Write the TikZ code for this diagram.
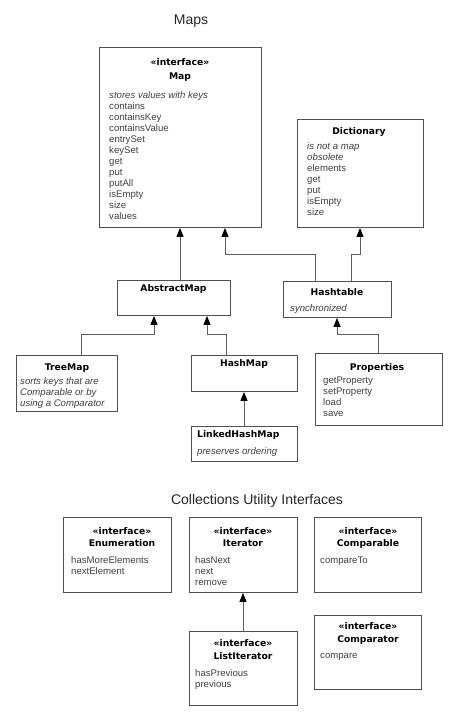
\documentclass[tikz,border=0pt]{standalone}
\usepackage{fontspec}
\setmainfont{Liberation Sans}
\newfontfamily\boldsans{DejaVu Sans}
\usetikzlibrary{arrows.meta,calc}
\definecolor{boxline}{HTML}{505050}
\definecolor{connline}{HTML}{606060}
\definecolor{bodytext}{HTML}{404040}
\tikzset{
  umlbox/.style={draw=boxline, line width=0.9pt, fill=white, rectangle, inner sep=0pt, anchor=north west},
  cname/.style={font=\boldsans\bfseries\fontsize{9.2}{11}\selectfont, text=black, anchor=base, inner sep=0pt},
  lname/.style={font=\boldsans\bfseries\fontsize{9.2}{11}\selectfont, text=black, anchor=base west, inner sep=0pt},
  members/.style={font=\fontsize{9.6}{11}\selectfont, text=bodytext, align=left, anchor=north west, inner sep=0pt},
  heading/.style={font=\fontsize{14}{16}\selectfont, text=black!85, anchor=base, inner sep=0pt},
  conn/.style={draw=connline, line width=0.9pt, -{Triangle[width=7pt,length=9pt,color=black]}},
}
\begin{document}
\begin{tikzpicture}[x=1pt,y=-1pt]
\useasboundingbox (0,0) rectangle (458,717);
\fill[white] (0,0) rectangle (458,717);

% headings
\node[heading] (tmaps) at (191,25) {Maps};
\node[heading] (tutil) at (257,504) {Collections Utility Interfaces};

% ---------- Maps boxes ----------
\node[umlbox, minimum width=162pt, minimum height=180pt] (map) at (99,47) {};
\node[cname] (mapst) at (180,65.5) {«interface»};
\node[cname] (mapn) at (180,79) {Map};
\node[members] (mapm) at (109,90.5) {\rule{0pt}{8pt}\textit{stores values with keys}\\contains\\containsKey\\containsValue\\entrySet\\keySet\\get\\put\\putAll\\isEmpty\\size\\values};

\node[umlbox, minimum width=126pt, minimum height=108pt] (dictionary) at (297,119) {};
\node[cname] (dictn) at (359,134.5) {Dictionary};
\node[members] (dictm) at (307,141.5) {\rule{0pt}{8pt}\textit{is not a map}\\\textit{obsolete}\\elements\\get\\put\\isEmpty\\size};

\node[umlbox, minimum width=113pt, minimum height=35pt] (abstractmap) at (117,280) {};
\node[cname] (absn) at (173.5,291.5) {AbstractMap};

\node[umlbox, minimum width=108pt, minimum height=36pt] (hashtable) at (283,281) {};
\node[cname] (htn) at (337,295.5) {Hashtable};
\node[members] (htm) at (290,303.5) {\rule{0pt}{8pt}\textit{synchronized}};

\node[umlbox, minimum width=101pt, minimum height=56pt] (treemap) at (16,355) {};
\node[cname] (tmn) at (67,370.5) {TreeMap};
\node[members] (tmm) at (20,376.5) {\rule{0pt}{8pt}\textit{sorts keys that are}\\\textit{Comparable or by}\\\textit{using a Comparator}};

\node[umlbox, minimum width=106pt, minimum height=36pt] (hashmap) at (191,355) {};
\node[cname] (hmn) at (244,366.5) {HashMap};

\node[umlbox, minimum width=106pt, minimum height=35pt] (linkedhashmap) at (191,426) {};
\node[lname] (lhmn) at (197,437.5) {LinkedHashMap};
\node[members] (lhmm) at (197,446.5) {\rule{0pt}{8pt}\textit{preserves ordering}};

\node[umlbox, minimum width=127pt, minimum height=72pt] (properties) at (315,353) {};
\node[cname] (propn) at (377,370.5) {Properties};
\node[members] (propm) at (323,375.5) {\rule{0pt}{8pt}getProperty\\setProperty\\load\\save};

% ---------- Maps connectors ----------
\draw[conn] ($(abstractmap.north west)+(63,0)$) -- ($(map.south west)+(81,0)$);
\draw[conn] ($(hashtable.north west)+(32,0)$) |- ($(map.south west)+(126,27)$) -- ($(map.south west)+(126,0)$);
\draw[conn] ($(hashtable.north west)+(68,0)$) |- ($(dictionary.south west)+(63,27)$) -- ($(dictionary.south west)+(63,0)$);
\draw[conn] ($(treemap.north west)+(65,0)$) |- ($(abstractmap.south west)+(37,19)$) -- ($(abstractmap.south west)+(37,0)$);
\draw[conn] ($(hashmap.north west)+(35,0)$) |- ($(abstractmap.south west)+(90,19)$) -- ($(abstractmap.south west)+(90,0)$);
\draw[conn] ($(linkedhashmap.north west)+(53,0)$) -- ($(hashmap.south west)+(53,0)$);
\draw[conn] ($(properties.north west)+(63,0)$) |- ($(hashtable.south west)+(54,17)$) -- ($(hashtable.south west)+(54,0)$);

% ---------- Utility interfaces ----------
\node[umlbox, minimum width=108pt, minimum height=75pt] (enumeration) at (63,517) {};
\node[cname] (enst) at (122,534.5) {«interface»};
\node[cname] (enn) at (122,546.5) {Enumeration};
\node[members, font=\fontsize{9.6}{10.5}\selectfont] (enm) at (71,555.5) {\rule{0pt}{8pt}hasMoreElements\\nextElement};

\node[umlbox, minimum width=108pt, minimum height=75pt] (iterator) at (189,517) {};
\node[cname] (itst) at (243,534.5) {«interface»};
\node[cname] (itn) at (243,546.5) {Iterator};
\node[members] (itm) at (195,555.5) {\rule{0pt}{8pt}hasNext\\next\\remove};

\node[umlbox, minimum width=107pt, minimum height=75pt] (comparable) at (314,517) {};
\node[cname] (cbst) at (368,534.5) {«interface»};
\node[cname] (cbn) at (368,546.5) {Comparable};
\node[members] (cbm) at (320,555.5) {\rule{0pt}{8pt}compareTo};

\node[umlbox, minimum width=108pt, minimum height=74pt] (listiterator) at (189,631) {};
\node[cname] (list) at (243,646.5) {«interface»};
\node[cname] (lin) at (243,659.5) {ListIterator};
\node[members] (lim) at (195,668.5) {\rule{0pt}{8pt}hasPrevious\\previous};

\node[umlbox, minimum width=107pt, minimum height=74pt] (comparator) at (314,615) {};
\node[cname] (cst) at (368,629.5) {«interface»};
\node[cname] (csn) at (368,642.5) {Comparator};
\node[members] (csm) at (320,650.5) {\rule{0pt}{8pt}compare};

\draw[conn] ($(listiterator.north west)+(54,0)$) -- ($(iterator.south west)+(54,0)$);
\end{tikzpicture}
\end{document}
